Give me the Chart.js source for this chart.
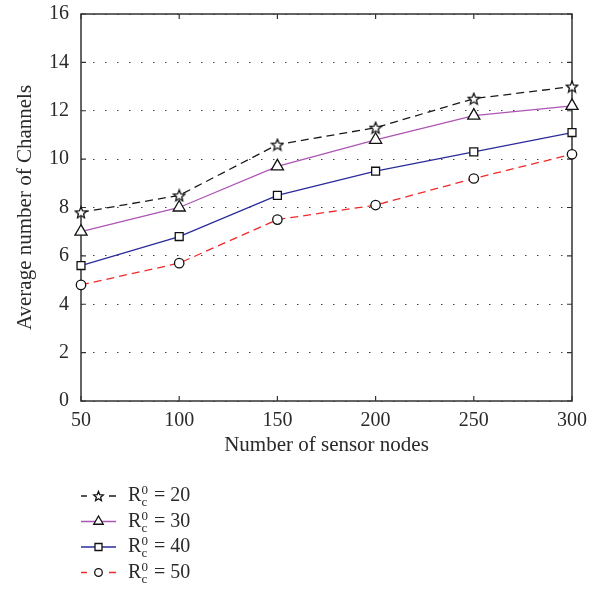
<!DOCTYPE html>
<html>
<head>
<meta charset="utf-8">
<script src="https://cdn.jsdelivr.net/npm/chart.js@4.4.1/dist/chart.umd.min.js"></script>
<style>
  html, body { margin: 0; padding: 0; background: #fff; }
  #wrap { width: 602px; height: 590px; }
</style>
</head>
<body>
<div id="wrap"><canvas id="channelsChart" width="602" height="590"></canvas></div>
<script>
// Average number of channels vs. number of sensor nodes, one series per R_c^0
const sensorNodes = [50, 100, 150, 200, 250, 300];
const channelsR20 = [7.8, 8.5, 10.6, 11.3, 12.5, 13.0];
const channelsR30 = [7.0, 8.0, 9.7, 10.8, 11.8, 12.2];
const channelsR40 = [5.6, 6.8, 8.5, 9.5, 10.3, 11.1];
const channelsR50 = [4.8, 5.7, 7.5, 8.1, 9.2, 10.2];
const radiusValues = ['20', '30', '40', '50'];

const serif = '"Liberation Serif", "DejaVu Serif", serif';
const ink = '#2a2a2a';

function toPoints(values) {
    return values.map((v, i) => ({ x: sensorNodes[i], y: v }));
}

// Five-pointed star outline used as a marker
function drawStar(ctx, x, y, r) {
    ctx.beginPath();
    for (let i = 0; i < 10; i++) {
        const rad = i % 2 === 0 ? r : r * 0.45;
        const a = -Math.PI / 2 + i * Math.PI / 5;
        const px = x + Math.cos(a) * rad;
        const py = y + Math.sin(a) * rad;
        if (i === 0) ctx.moveTo(px, py); else ctx.lineTo(px, py);
    }
    ctx.closePath();
    ctx.fillStyle = '#fff';
    ctx.fill();
    ctx.lineWidth = 1.3;
    ctx.strokeStyle = '#111';
    ctx.stroke();
}

const starImg = document.createElement('canvas');
starImg.width = 14;
starImg.height = 14;
drawStar(starImg.getContext('2d'), 7, 7.6, 6);

// Smaller copies of the markers for the legend
function drawMarker(ctx, style, x, y) {
    ctx.save();
    ctx.setLineDash([]);
    ctx.lineWidth = 1.3;
    ctx.strokeStyle = '#111';
    ctx.fillStyle = '#fff';
    if (style === starImg) {
        drawStar(ctx, x, y + 0.5, 5);
    } else if (style === 'triangle') {
        const r = 5.5;
        ctx.beginPath();
        ctx.moveTo(x, y - r);
        ctx.lineTo(x + r * 0.866, y + r * 0.5);
        ctx.lineTo(x - r * 0.866, y + r * 0.5);
        ctx.closePath();
        ctx.fill(); ctx.stroke();
    } else if (style === 'rect') {
        ctx.beginPath();
        ctx.rect(x - 3.5, y - 3.5, 7, 7);
        ctx.fill(); ctx.stroke();
    } else {
        ctx.beginPath();
        ctx.arc(x, y, 3.8, 0, Math.PI * 2);
        ctx.fill(); ctx.stroke();
    }
    ctx.restore();
}

// Box around the plot with inward tick marks on all four sides
const framePlugin = {
    id: 'plotFrame',
    beforeDatasetsDraw(chart) {
        const { ctx, chartArea: a, scales } = chart;
        const len = 5;
        ctx.save();
        ctx.strokeStyle = '#333';
        ctx.lineWidth = 1.5;
        ctx.setLineDash([]);
        ctx.strokeRect(a.left, a.top, a.right - a.left, a.bottom - a.top);
        ctx.lineWidth = 1.2;
        ctx.beginPath();
        scales.x.ticks.forEach(t => {
            const px = scales.x.getPixelForValue(t.value);
            ctx.moveTo(px, a.bottom); ctx.lineTo(px, a.bottom - len);
            ctx.moveTo(px, a.top); ctx.lineTo(px, a.top + len);
        });
        scales.y.ticks.forEach(t => {
            const py = scales.y.getPixelForValue(t.value);
            ctx.moveTo(a.left, py); ctx.lineTo(a.left + len, py);
            ctx.moveTo(a.right, py); ctx.lineTo(a.right - len, py);
        });
        ctx.stroke();
        ctx.restore();
    }
};

// Legend under the chart, with R_c^0 written with sub/superscript
const legendPlugin = {
    id: 'radiusLegend',
    afterDraw(chart) {
        const ctx = chart.ctx;
        chart.data.datasets.forEach((ds, i) => {
            const y = 496 + i * 25.5;
            const dashed = ds.borderDash && ds.borderDash.length;
            ctx.save();
            ctx.strokeStyle = ds.borderColor;
            ctx.lineWidth = ds.borderWidth;
            ctx.beginPath();
            if (dashed) {
                ctx.moveTo(81, y); ctx.lineTo(87, y);
                ctx.moveTo(109, y); ctx.lineTo(116, y);
            } else {
                ctx.moveTo(81, y); ctx.lineTo(116, y);
            }
            ctx.stroke();
            ctx.restore();
            drawMarker(ctx, ds.pointStyle, 98.5, y);

            ctx.save();
            ctx.fillStyle = ink;
            ctx.textBaseline = 'alphabetic';
            ctx.textAlign = 'left';
            ctx.font = '20px ' + serif;
            ctx.fillText('R', 128, y + 5);
            ctx.font = '13px ' + serif;
            ctx.fillText('0', 141.5, y - 2);
            ctx.fillText('c', 141.5, y + 10);
            ctx.font = '20px ' + serif;
            ctx.fillText('= ' + radiusValues[i], 154, y + 5);
            ctx.restore();
        });
    }
};

new Chart(document.getElementById('channelsChart'), {
    type: 'line',
    data: {
        datasets: [
            {
                label: 'R20',
                data: toPoints(channelsR20),
                borderColor: '#1a1a1a',
                borderWidth: 1.3,
                borderDash: [8, 5],
                pointStyle: starImg,
                pointRadius: 6,
                clip: false,
                tension: 0
            },
            {
                label: 'R30',
                data: toPoints(channelsR30),
                borderColor: '#ad55b5',
                borderWidth: 1.3,
                pointStyle: 'triangle',
                pointRadius: 7,
                pointBackgroundColor: '#fff',
                pointBorderColor: '#111',
                pointBorderWidth: 1.3,
                clip: false,
                tension: 0
            },
            {
                label: 'R40',
                data: toPoints(channelsR40),
                borderColor: '#2b2b9c',
                borderWidth: 1.3,
                pointStyle: 'rect',
                pointRadius: 5.6,
                pointBackgroundColor: '#fff',
                pointBorderColor: '#111',
                pointBorderWidth: 1.3,
                clip: false,
                tension: 0
            },
            {
                label: 'R50',
                data: toPoints(channelsR50),
                borderColor: '#f02a2a',
                borderWidth: 1.3,
                borderDash: [8, 5],
                pointStyle: 'circle',
                pointRadius: 4.7,
                pointBackgroundColor: '#fff',
                pointBorderColor: '#111',
                pointBorderWidth: 1.3,
                clip: false,
                tension: 0
            }
        ]
    },
    options: {
        responsive: false,
        animation: false,
        layout: { padding: { top: 14, right: 30, left: 9, bottom: 130 } },
        plugins: {
            legend: { display: false },
            tooltip: { enabled: false }
        },
        scales: {
            x: {
                type: 'linear',
                min: 50,
                max: 300,
                afterFit(scale) {
                    scale.height = 59;
                    scale.paddingLeft = 0;
                    scale.paddingRight = 0;
                },
                ticks: {
                    stepSize: 50,
                    padding: 8,
                    color: ink,
                    font: { family: serif, size: 20 }
                },
                grid: { display: false, drawTicks: false },
                border: { display: false },
                title: {
                    display: true,
                    text: 'Number of sensor nodes',
                    color: ink,
                    font: { family: serif, size: 21 },
                    padding: { top: 4, bottom: 2 }
                }
            },
            y: {
                min: 0,
                max: 16,
                afterFit(scale) {
                    scale.width = 72;
                    scale.paddingTop = 0;
                    scale.paddingBottom = 0;
                },
                ticks: {
                    stepSize: 2,
                    padding: 12,
                    color: ink,
                    font: { family: serif, size: 20 }
                },
                grid: {
                    drawTicks: false,
                    color: '#444',
                    lineWidth: 1
                },
                border: { display: false, dash: [1.5, 10.5], dashOffset: -12 },
                title: {
                    display: true,
                    text: 'Average number of Channels',
                    color: ink,
                    font: { family: serif, size: 21 }
                }
            }
        }
    },
    plugins: [framePlugin, legendPlugin]
});
</script>
</body>
</html>
